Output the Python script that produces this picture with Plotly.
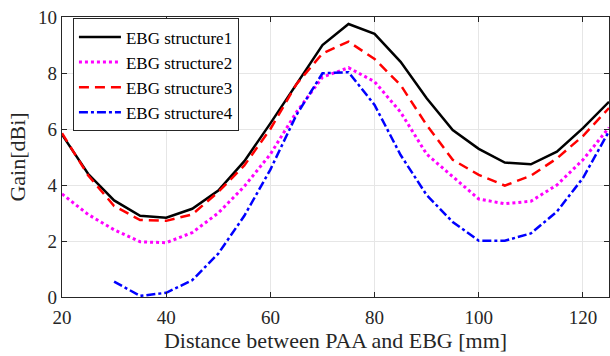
import plotly.graph_objects as go

distance = [20, 25, 30, 35, 40, 45, 50, 55, 60, 65, 70, 75, 80, 85, 90, 95, 100, 105, 110, 115, 120, 125]
ebg1 = [5.8, 4.4, 3.45, 2.9, 2.83, 3.15, 3.8, 4.85, 6.2, 7.6, 9.0, 9.75, 9.4, 8.4, 7.1, 5.96, 5.29, 4.8, 4.74, 5.19, 6.03, 6.97]
ebg2 = [3.68, 2.95, 2.4, 1.97, 1.94, 2.3, 3.0, 3.95, 5.1, 6.6, 7.85, 8.19, 7.69, 6.6, 5.1, 4.3, 3.5, 3.33, 3.42, 4.0, 4.9, 6.05]
ebg3 = [5.85, 4.35, 3.25, 2.75, 2.72, 2.95, 3.75, 4.7, 6.0, 7.6, 8.7, 9.12, 8.5, 7.57, 6.14, 4.9, 4.36, 3.98, 4.33, 4.95, 5.75, 6.75]
dist4 = [30, 35, 40, 45, 50, 55, 60, 65, 70, 75, 80, 85, 90, 95, 100, 105, 110, 115, 120, 125]
ebg4 = [0.55, 0.04, 0.15, 0.6, 1.55, 2.9, 4.55, 6.5, 7.99, 8.03, 6.86, 5.07, 3.64, 2.68, 2.01, 2.01, 2.27, 3.05, 4.25, 5.92]

names = ["EBG structure1", "EBG structure2", "EBG structure3", "EBG structure4"]

fig = go.Figure()
fig.add_trace(go.Scatter(x=distance, y=ebg1, mode="lines", name=names[0],
                         line=dict(color="black", width=2.5)))
fig.add_trace(go.Scatter(x=distance, y=ebg2, mode="lines", name=names[1],
                         line=dict(color="#ff00ff", width=3, dash="dot")))
fig.add_trace(go.Scatter(x=distance, y=ebg3, mode="lines", name=names[2],
                         line=dict(color="#ff0000", width=2.5, dash="10px,6px")))
fig.add_trace(go.Scatter(x=dist4, y=ebg4, mode="lines", name=names[3],
                         line=dict(color="#0000ff", width=2.5, dash="9px,3px,3px,3px")))

font_family = "Liberation Serif"
axis_common = dict(
    showline=True, linecolor="#262626", linewidth=1.2, mirror="ticks",
    ticks="inside", ticklen=5, tickcolor="#262626",
    showgrid=True, gridcolor="#e6e6e6", gridwidth=1, zeroline=False,
    tickfont=dict(family=font_family, size=19, color="#262626"),
)
fig.update_layout(
    width=610, height=356,
    margin=dict(l=62, r=1, t=17, b=59),
    plot_bgcolor="white", paper_bgcolor="white",
    font=dict(family=font_family, color="#262626"),
    xaxis=dict(range=[20, 125], tickvals=[20, 40, 60, 80, 100, 120],
               ticklabelstandoff=3,
               title=dict(text="Distance between PAA and EBG [mm]", font=dict(family=font_family, size=22), standoff=2),
               **axis_common),
    yaxis=dict(range=[0, 10], tickvals=[0, 2, 4, 6, 8, 10],
               title=dict(text="Gain[dBi]", font=dict(family=font_family, size=22), standoff=6),
               **axis_common),
    legend=dict(x=0.02, y=0.995, xanchor="left", yanchor="top",
                bgcolor="white", bordercolor="#262626", borderwidth=1,
                font=dict(family=font_family, size=17, color="black"),
                tracegroupgap=0, itemwidth=42),
    showlegend=True,
)
fig.write_html("out.html")
